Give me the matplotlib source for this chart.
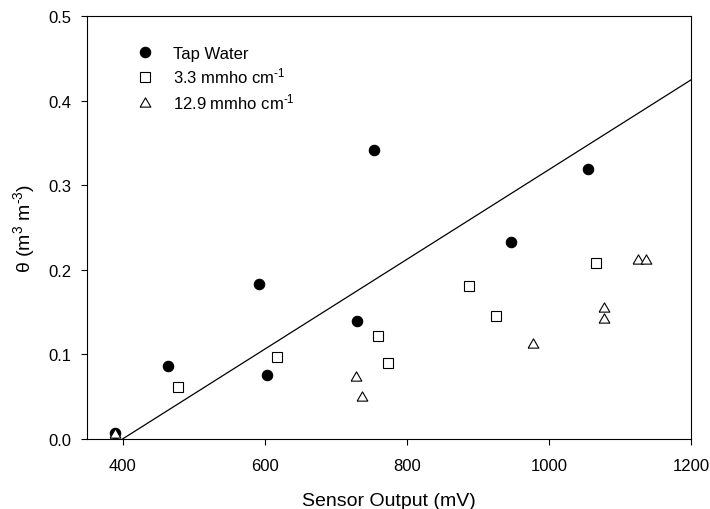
import matplotlib
matplotlib.use("Agg")
import matplotlib.pyplot as plt

plt.rcParams['font.family'] = ['Liberation Sans', 'DejaVu Sans']
plt.rcParams['mathtext.fontset'] = 'custom'
plt.rcParams['mathtext.rm'] = 'Liberation Sans'
plt.rcParams['mathtext.it'] = 'Liberation Sans:italic'
plt.rcParams['mathtext.default'] = 'regular'

# Data
tap_x = [390, 464, 592, 604, 730, 754, 946, 1055]
tap_y = [0.007, 0.086, 0.183, 0.076, 0.140, 0.342, 0.233, 0.319]

ec33_x = [478, 617, 760, 773, 887, 926, 1066]
ec33_y = [0.062, 0.097, 0.122, 0.090, 0.181, 0.145, 0.208]

ec129_x = [389, 729, 737, 977, 1078, 1078, 1126, 1136]
ec129_y = [0.007, 0.074, 0.051, 0.114, 0.156, 0.143, 0.213, 0.213]

fit_x = [400, 1200]
fit_y = [0.0, 0.4245]

x_ticks = [400, 600, 800, 1000, 1200]
y_ticks = [0.0, 0.1, 0.2, 0.3, 0.4, 0.5]

fig = plt.figure(figsize=(7.1, 5.1), dpi=100)
ax = fig.add_axes([87/710, 70/510, (691-87)/710, (440-17)/510])

tri = [(-1, -0.866), (1, -0.866), (0, 0.866), (-1, -0.866)]

ax.plot(fit_x, fit_y, color='black', lw=0.9, zorder=2)
ax.plot(ec33_x, ec33_y, ls='none', marker='s', ms=6.5, mfc='white', mec='black',
        mew=0.8, label=r'3.3 mmho cm$^{\text{-}1}$', zorder=3)
ax.plot(tap_x, tap_y, ls='none', marker='o', ms=7.5, mfc='black', mec='black',
        mew=0.8, label='Tap Water', zorder=4)
ax.plot(ec129_x, ec129_y, ls='none', marker=tri, ms=7.7, mfc='white', mec='black',
        mew=0.8, label=r'12.9 mmho cm$^{\text{-}1}$', zorder=5)

ax.set_xlim(350, 1200)
ax.set_ylim(0, 0.5)
ax.set_xticks(x_ticks)
ax.set_yticks(y_ticks)
ax.set_xticklabels([str(v) for v in x_ticks])
ax.set_yticklabels([f"{v:.1f}" for v in y_ticks])
ax.tick_params(direction='out', length=4.5, width=0.8, labelsize=12)
ax.tick_params(axis='x', pad=9)
ax.tick_params(axis='y', pad=7)
for s in ax.spines.values():
    s.set_linewidth(0.8)

ax.set_xlabel('Sensor Output (mV)', fontsize=14, labelpad=14)
ax.set_ylabel(r'$\theta$ (m$^3$ m$^{\text{-}3}$)', fontsize=14, labelpad=8)

h, l = ax.get_legend_handles_labels()
order = [1, 0, 2]
ax.legend([h[i] for i in order], [l[i] for i in order], loc='upper left',
          bbox_to_anchor=(0.0823, 0.930), frameon=False, fontsize=12,
          handlelength=1.0, handletextpad=1.17, labelspacing=0.32,
          borderpad=0, borderaxespad=0, numpoints=1)

fig.savefig('out.png', dpi=100)
